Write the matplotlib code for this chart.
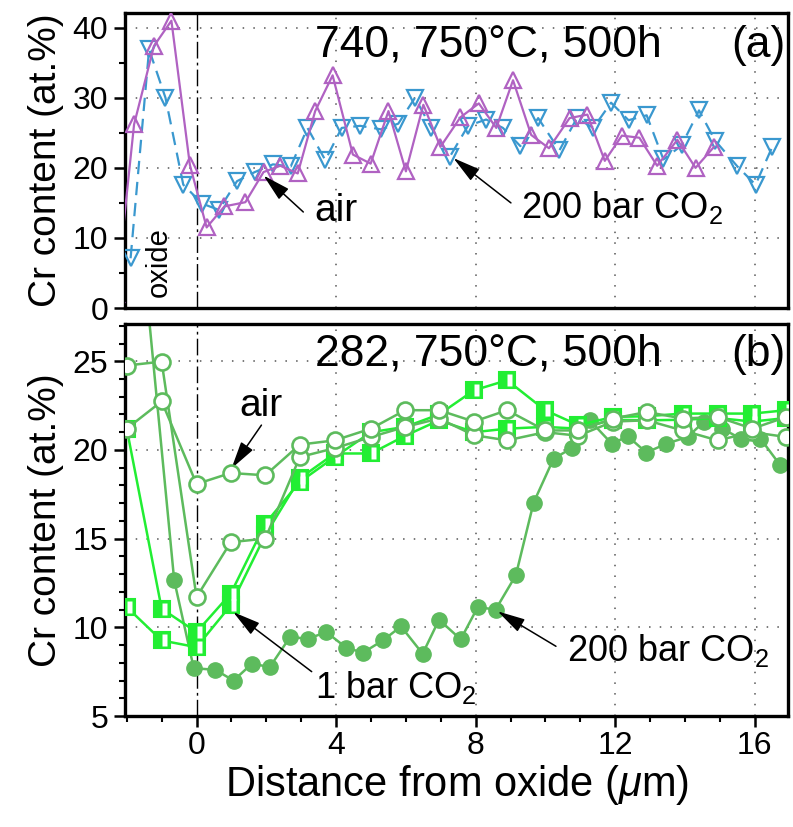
import matplotlib
matplotlib.use("Agg")
import matplotlib.pyplot as plt
from matplotlib.path import Path
from matplotlib.ticker import MultipleLocator

plt.rcParams['font.family'] = ['Liberation Sans', 'DejaVu Sans']
plt.rcParams['mathtext.fontset'] = 'custom'
plt.rcParams['mathtext.rm'] = 'Liberation Sans'
plt.rcParams['mathtext.it'] = 'Liberation Sans:italic'

# ---------------- data: panel (a) alloy 740 ----------------
a_air_x = [-2.30, -1.79, -1.22, -0.72, -0.19, 0.29, 0.80, 1.40, 1.92, 2.40, 2.90, 3.40, 3.90,
           4.48, 4.99, 5.50, 6.00, 6.50, 6.99, 7.56, 8.09, 8.59, 9.07, 9.59, 10.10,
           10.69, 11.20, 11.70, 12.19, 12.69, 13.20, 13.78, 14.30, 14.83]
a_air_y = [2.0, 26.2, 37.4, 41.0, 20.4, 11.5, 14.5, 15.1, 19.4, 20.3, 19.2, 28.1, 33.2,
           21.9, 20.6, 28.1, 19.5, 29.0, 23.0, 27.2, 29.2, 25.7, 32.5, 24.7, 22.8,
           27.1, 27.6, 21.0, 24.6, 24.3, 20.3, 24.0, 20.0, 23.0]
a_co2_x = [-1.89, -1.36, -0.89, -0.38, 0.16, 0.64, 1.16, 1.67, 2.19, 2.70, 3.18, 3.69,
           4.16, 4.69, 5.28, 5.78, 6.26, 6.73, 7.26, 7.78, 8.30, 8.78, 9.28, 9.79,
           10.40, 10.90, 11.37, 11.88, 12.38, 12.90, 13.38, 13.90, 14.40, 14.86,
           15.50, 16.02, 16.50]
a_co2_y = [7.1, 36.9, 30.0, 17.6, 14.9, 14.0, 18.1, 19.4, 20.5, 20.2, 25.7, 21.1,
           25.7, 26.0, 25.5, 26.3, 30.0, 25.7, 21.6, 26.0, 26.9, 25.7, 23.1, 27.1,
           22.5, 27.1, 25.7, 29.3, 26.8, 27.5, 21.2, 23.2, 28.2, 23.9,
           20.2, 17.6, 23.0]

# ---------------- data: panel (b) alloy 282 ----------------
b_x = [-2.0, -1.0, 0.0, 0.98, 1.97, 2.96, 3.96, 5.0, 5.98, 6.95, 7.95, 8.9,
       9.99, 10.94, 11.94, 12.9, 13.93, 14.93, 15.93, 16.9]
b_air1_y = [21.2, 22.74, 18.08, 18.7, 18.57, 20.3, 20.54, 21.2, 22.24, 22.24, 21.6, 22.24,
            21.1, 21.1, 21.77, 22.14, 21.77, 21.86, 21.2, 21.86]
b_air2_y = [24.76, 24.98, 11.7, 14.8, 15.0, 19.6, 20.1, 20.73, 21.3, 21.77, 20.83, 20.54,
            21.0, 20.8, 21.6, 21.67, 21.1, 20.54, 21.0, 20.73]
b_1bar1_y = [21.2, 11.05, 9.73, 11.9, 15.85, 18.2, 19.6, 21.0, 21.3, 22.0, 23.36, 23.93,
             22.24, 21.4, 21.86, 21.9, 22.05, 22.05, 22.05, 22.24]
b_1bar2_y = [11.14, 9.26, 8.88, 11.24, 15.2, 18.4, 19.8, 19.8, 20.8, 21.67, 21.0, 21.2,
             21.3, 21.2, 21.7, 21.67, 21.7, 21.8, 21.6, 21.8]
b_200_x = [-1.75, -0.64, -0.08, 0.54, 1.06, 1.59, 2.10, 2.68, 3.20, 3.72, 4.29, 4.77,
           5.34, 5.86, 6.48, 6.95, 7.57, 8.06, 8.57, 9.15, 9.66, 10.23, 10.75, 11.27,
           11.90, 12.36, 12.89, 13.46, 14.07, 14.55, 15.07, 15.59, 16.16, 16.73]
b_200_y = [35.4, 12.65, 7.7, 7.6, 7.0, 7.95, 7.76, 9.45, 9.36, 9.73, 8.85, 8.57,
           9.26, 10.05, 8.51, 10.43, 9.32, 11.14, 11.0, 12.93, 17.03, 19.5, 20.1, 21.67,
           20.35, 20.77, 19.85, 20.35, 20.73, 21.6, 21.2, 20.64, 20.64, 19.13]

x_ticks = [0, 4, 8, 12, 16]
a_yticks = [0, 10, 20, 30, 40]
b_yticks = [5, 10, 15, 20, 25]

MAG = '#B062C2'
BLUE = '#3A98CF'
MGREEN = '#5DBB5D'
BGREEN = '#22EE33'

fig = plt.figure(figsize=(7.93, 8.27), dpi=100)
W, H = 793.0, 827.0
ax1 = fig.add_axes([125 / W, 1 - 308 / H, 663 / W, 295 / H])
ax2 = fig.add_axes([125 / W, 1 - 716 / H, 663 / W, 392 / H])

XLIM = (-2.05, 16.95)

def style(ax, ylim, ymaj, ymin, xlabels=True):
    ax.set_xlim(*XLIM)
    ax.set_ylim(*ylim)
    for s in ax.spines.values():
        s.set_linewidth(2.4)
    ax.xaxis.set_major_locator(MultipleLocator(4))
    ax.xaxis.set_minor_locator(MultipleLocator(1))
    ax.yaxis.set_major_locator(MultipleLocator(ymaj))
    ax.yaxis.set_minor_locator(MultipleLocator(ymin))
    ax.tick_params(which='major', direction='out', length=8, width=1.8, labelsize=23,
                   right=False, top=False, pad=4)
    ax.tick_params(which='minor', direction='out', length=4.5, width=1.5,
                   right=False, top=False)
    ax.tick_params(axis='x', which='major', pad=3)
    if not xlabels:
        ax.tick_params(axis='x', which='both', labelbottom=False, length=0)
    for xv in x_ticks[1:]:
        ax.axvline(xv, color='#555555', lw=1.1, ls=(0, (1, 6)), zorder=0.5)
    for yv in ax.get_yticks():
        if ylim[0] < yv < ylim[1]:
            ax.axhline(yv, color='#555555', lw=1.1, ls=(0, (1, 6)), zorder=0.5)
    ax.axvline(0, color='k', lw=1.0, ls=(0, (12, 3, 2, 3)), zorder=0.6)

arrow = dict(arrowstyle='-|>,head_length=0.85,head_width=0.22', color='k', lw=1.1,
             shrinkA=0, shrinkB=0, mutation_scale=20)

# ---------------- panel (a) ----------------
style(ax1, (0, 42.1), 10, 5, xlabels=False)
ax1.set_yticks(a_yticks)
ax1.plot(a_co2_x, a_co2_y, color=BLUE, lw=1.6, ls=(0, (6, 3.5)), marker='v', ms=11,
         mfc='none', mec=BLUE, mew=1.6, zorder=3)
ax1.plot(a_air_x, a_air_y, color=MAG, lw=1.6, marker='^', ms=11,
         mfc='none', mec=MAG, mew=1.6, zorder=3)
ax1.set_ylabel('Cr content (at.%)', fontsize=28, labelpad=6)

ax1.text(8.35, 37.5, '740, 750°C, 500h', fontsize=32, ha='center', va='center')
ax1.text(16.1, 37.5, '(a)', fontsize=32, ha='center', va='center')
ax1.text(-1.08, 6.6, 'oxide', fontsize=21, rotation=90, ha='center', va='center')
ax1.annotate('', xy=(1.92, 18.9), xytext=(3.06, 13.7), arrowprops=arrow)
ax1.text(3.99, 13.8, 'air', fontsize=28, ha='center', va='center')
ax1.annotate('', xy=(7.36, 21.4), xytext=(9.01, 15.0), arrowprops=arrow)
ax1.text(12.2, 14.4, '200 bar CO$_2$', fontsize=26, ha='center', va='center')

# ---------------- panel (b) ----------------
style(ax2, (5, 27.1), 5, 1)
ax2.set_yticks(b_yticks)
ax2.set_xticks(x_ticks)
ax2.plot(b_200_x, b_200_y, color=MGREEN, lw=1.8, marker='o', ms=11, mfc=MGREEN,
         mec=MGREEN, zorder=2)

# half-filled squares: green square + white bar
hole = Path([(-1, -1), (0.06, -0.7), (0.64, -0.7), (0.64, 0.7), (0.06, 0.7), (0.06, -0.7)],
            [Path.MOVETO, Path.MOVETO, Path.LINETO, Path.LINETO, Path.LINETO, Path.CLOSEPOLY])
for ys in (b_1bar2_y, b_1bar1_y):
    ax2.plot(b_x, ys, color=BGREEN, lw=1.8, marker='s', ms=11.5, mfc=BGREEN, mec=BGREEN,
             mew=1.5, zorder=3)
    ax2.plot(b_x, ys, ls='none', marker=hole, ms=11.5, mfc='white', mec='none', zorder=3.1)
for ys in (b_air2_y, b_air1_y):
    ax2.plot(b_x, ys, color=MGREEN, lw=1.8, marker='o', ms=11.5, mfc='white', mec=MGREEN,
             mew=1.9, zorder=4)

ax2.set_ylabel('Cr content (at.%)', fontsize=28, labelpad=6)
ax2.set_xlabel(r'Distance from oxide ($\mu$m)', fontsize=30, labelpad=1)
ax2.text(8.35, 25.4, '282, 750°C, 500h', fontsize=32, ha='center', va='center')
ax2.text(16.1, 25.4, '(b)', fontsize=32, ha='center', va='center')
ax2.annotate('', xy=(1.0, 18.95), xytext=(1.86, 21.4), arrowprops=arrow)
ax2.text(1.86, 22.5, 'air', fontsize=28, ha='center', va='center')
ax2.annotate('', xy=(1.05, 10.86), xytext=(3.3, 7.5), arrowprops=arrow)
ax2.text(5.7, 6.6, '1 bar CO$_2$', fontsize=26, ha='center', va='center')
ax2.annotate('', xy=(8.63, 10.9), xytext=(10.3, 8.93), arrowprops=arrow)
ax2.text(13.5, 8.7, '200 bar CO$_2$', fontsize=26, ha='center', va='center')

fig.savefig('out.png', dpi=100)
